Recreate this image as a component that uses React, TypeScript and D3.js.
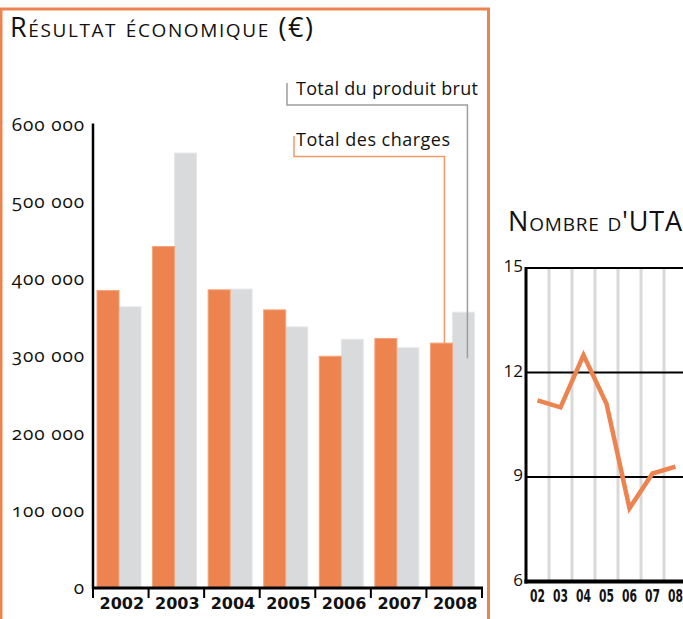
import React, { useEffect, useRef } from 'react';
import * as d3 from 'd3';

// Résultat économique (€)
const years = ['2002', '2003', '2004', '2005', '2006', '2007', '2008'];
const charges = [385000, 442000, 386000, 360000, 300000, 323000, 317000];
const produit = [364000, 563000, 387000, 338000, 322000, 311000, 357000];
const yTicks = [0, 100000, 200000, 300000, 400000, 500000, 600000];

// Nombre d'UTA
const utaLabels = ['02', '03', '04', '05', '06', '07', '08'];
const utaValues = [11.2, 11.0, 12.5, 11.1, 8.1, 9.1, 9.3];
const utaTicks = [6, 9, 12, 15];

const ORANGE = '#ED834E';
const GREY = '#D9DADC';
const SERIF_LIKE = '"Open Sans", "Lato", sans-serif';

const App = () => {
  const svgRef = useRef<SVGSVGElement>(null);

  useEffect(() => {
    const svg = d3.select(svgRef.current);
    svg.selectAll('*').remove();

    // panel frame
    svg.append('path')
      .attr('d', 'M1,640 L1,9 L488.5,9 L488.5,640')
      .attr('fill', 'none')
      .attr('stroke', ORANGE)
      .attr('stroke-width', 3);

    svg.append('text')
      .attr('x', 10)
      .attr('y', 37)
      .attr('textLength', 303)
      .attr('lengthAdjust', 'spacing')
      .style('font-family', SERIF_LIKE)
      .style('font-size', '27px')
      .style('font-variant', 'small-caps')
      .style('fill', '#111')
      .text('Résultat économique (€)');

    // bar chart
    const x = d3.scaleBand().domain(years).range([93, 482]);
    const sub = d3.scaleBand().domain(['charges', 'produit']).range([4, 48]);
    const y = d3.scaleLinear().domain([0, 600000]).range([588, 124.5]);

    const rows = years.map((yr, i) => ({ yr, charges: charges[i], produit: produit[i] }));

    const g = svg.append('g');
    g.selectAll('.bar-p')
      .data(rows)
      .enter()
      .append('rect')
      .attr('x', d => x(d.yr)! + sub('produit')!)
      .attr('y', d => y(d.produit))
      .attr('width', sub.bandwidth())
      .attr('height', d => y(0) - y(d.produit))
      .attr('fill', GREY)
      .attr('stroke', '#E6E7E8')
      .attr('stroke-width', 1);

    g.selectAll('.bar-c')
      .data(rows)
      .enter()
      .append('rect')
      .attr('x', d => x(d.yr)! + sub('charges')!)
      .attr('y', d => y(d.charges))
      .attr('width', sub.bandwidth())
      .attr('height', d => y(0) - y(d.charges))
      .attr('fill', ORANGE)
      .attr('stroke', '#F3A47C')
      .attr('stroke-width', 1);

    // y axis
    svg.append('line')
      .attr('x1', 93).attr('x2', 93)
      .attr('y1', y(600000) - 1).attr('y2', 589)
      .attr('stroke', '#000').attr('stroke-width', 2.5);

    svg.selectAll('.ylab')
      .data(yTicks)
      .enter()
      .append('text')
      .attr('x', 85)
      .attr('y', d => y(d) + 6)
      .attr('text-anchor', 'end')
      .style('font-family', SERIF_LIKE)
      .style('font-size', '19px')
      .style('letter-spacing', '0.9px')
      .style('font-variant-numeric', 'oldstyle-nums')
      .style('fill', '#111')
      .text(d => d3.format(',')(d).replace(/,/g, ' '));

    // x axis
    svg.append('line')
      .attr('x1', 92).attr('x2', 483)
      .attr('y1', 588).attr('y2', 588)
      .attr('stroke', '#000').attr('stroke-width', 3);

    const bounds = years.map(yr => x(yr)!).concat([482]);
    svg.selectAll('.xtick')
      .data(bounds)
      .enter()
      .append('line')
      .attr('x1', d => d).attr('x2', d => d)
      .attr('y1', 588).attr('y2', 598)
      .attr('stroke', '#000').attr('stroke-width', 2);

    svg.selectAll('.xlab')
      .data(years)
      .enter()
      .append('text')
      .attr('x', d => x(d)! + x.bandwidth() / 2 + 1)
      .attr('y', 608.5)
      .attr('text-anchor', 'middle')
      .style('font-family', '"DejaVu Sans", sans-serif')
      .style('font-weight', 'bold')
      .style('font-size', '16px')
      .style('fill', '#111')
      .text(d => d);

    // legend leaders
    const last = rows[rows.length - 1];
    const gx = x(last.yr)! + sub('produit')! + 15;
    const ox = x(last.yr)! + sub('charges')! + 14;

    svg.append('path')
      .attr('d', `M287,83 L287,105 L${gx},105 L${gx},${y(last.produit) + 46}`)
      .attr('fill', 'none')
      .attr('stroke', '#9D9D9D')
      .attr('stroke-width', 1.5);
    svg.append('text')
      .attr('x', 296).attr('y', 95)
      .attr('textLength', 182)
      .attr('lengthAdjust', 'spacing')
      .style('font-family', SERIF_LIKE)
      .style('font-size', '18px')
      .style('fill', '#111')
      .text('Total du produit brut');

    svg.append('path')
      .attr('d', `M294,136 L294,156.5 L${ox},156.5 L${ox},${y(last.charges)}`)
      .attr('fill', 'none')
      .attr('stroke', '#F2996A')
      .attr('stroke-width', 1.5);
    svg.append('text')
      .attr('x', 296).attr('y', 146)
      .attr('textLength', 154)
      .attr('lengthAdjust', 'spacing')
      .style('font-family', SERIF_LIKE)
      .style('font-size', '18px')
      .style('fill', '#111')
      .text('Total des charges');

    // Nombre d'UTA
    svg.append('text')
      .attr('x', 508)
      .attr('y', 231)
      .attr('textLength', 174)
      .attr('lengthAdjust', 'spacing')
      .style('font-family', SERIF_LIKE)
      .style('font-size', '27px')
      .style('font-variant', 'small-caps')
      .style('fill', '#111')
      .text("Nombre d'UTA");

    const xr = d3.scaleBand().domain(utaLabels).range([526, 687]);
    const yr = d3.scaleLinear().domain([6, 15]).range([581.5, 268]);

    svg.selectAll('.vgrid')
      .data(utaLabels)
      .enter()
      .append('line')
      .attr('x1', d => xr(d)! + xr.bandwidth())
      .attr('x2', d => xr(d)! + xr.bandwidth())
      .attr('y1', yr(15)).attr('y2', yr(6))
      .attr('stroke', '#D9D9D9').attr('stroke-width', 3);

    svg.selectAll('.hgrid')
      .data(utaTicks.filter(t => t > 6))
      .enter()
      .append('line')
      .attr('x1', 526).attr('x2', 690)
      .attr('y1', d => yr(d)).attr('y2', d => yr(d))
      .attr('stroke', '#000').attr('stroke-width', 2);

    svg.append('line')
      .attr('x1', 526).attr('x2', 526)
      .attr('y1', yr(15) - 1).attr('y2', yr(6) + 2)
      .attr('stroke', '#000').attr('stroke-width', 3);
    svg.append('line')
      .attr('x1', 524.5).attr('x2', 690)
      .attr('y1', yr(6)).attr('y2', yr(6))
      .attr('stroke', '#000').attr('stroke-width', 4);

    svg.selectAll('.rylab')
      .data(utaTicks)
      .enter()
      .append('text')
      .attr('x', 523)
      .attr('y', d => yr(d) + 4)
      .attr('text-anchor', 'end')
      .style('font-family', SERIF_LIKE)
      .style('font-size', '17px')
      .style('fill', '#111')
      .text(d => d);

    svg.selectAll('.rxlab')
      .data(utaLabels)
      .enter()
      .append('text')
      .attr('x', d => xr(d)! + xr.bandwidth() / 2 - 7.5)
      .attr('y', 601.5)
      .attr('textLength', 15)
      .attr('lengthAdjust', 'spacingAndGlyphs')
      .style('font-family', '"DejaVu Sans Condensed", "DejaVu Sans", sans-serif')
      .style('font-weight', 'bold')
      .style('font-size', '17px')
      .style('fill', '#111')
      .text(d => d);

    const line = d3.line<number>()
      .x((_, i) => xr(utaLabels[i])! + xr.bandwidth() / 2)
      .y(d => yr(d));

    svg.append('path')
      .datum(utaValues)
      .attr('d', line)
      .attr('fill', 'none')
      .attr('stroke', ORANGE)
      .attr('stroke-width', 4.5)
      .attr('stroke-linejoin', 'miter');
  }, []);

  return (
    <svg
      ref={svgRef}
      width={683}
      height={619}
      style={{ position: 'absolute', left: 0, top: 0, background: '#fff' }}
    />
  );
};

export default App;
